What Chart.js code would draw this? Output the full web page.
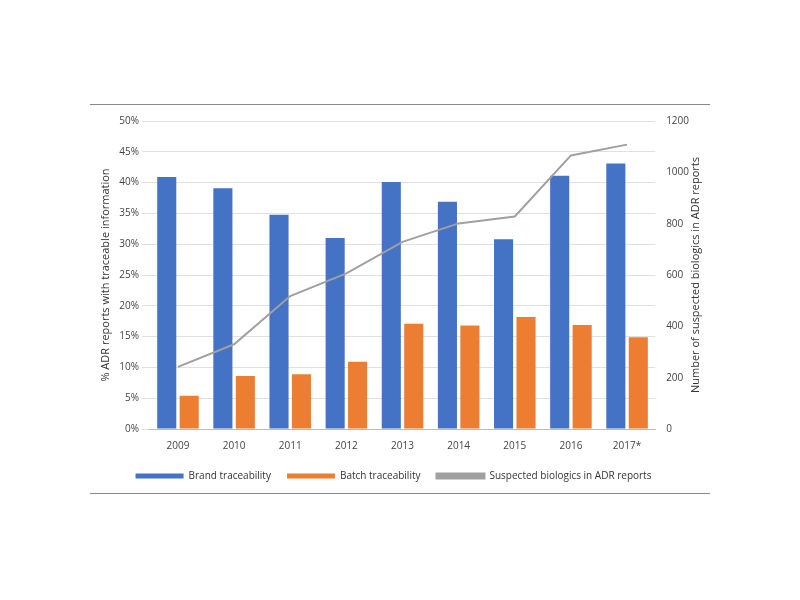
<!DOCTYPE html>
<html><head><meta charset="utf-8">
<script src="https://cdn.jsdelivr.net/npm/chart.js@4"></script>
<style>
body{margin:0;background:#fff;}
#wrap{position:absolute;left:90px;top:104px;width:620px;height:388px;border-top:1px solid #888;border-bottom:1px solid #888;}
</style></head><body>
<div id="wrap"><canvas id="c"></canvas></div>
<script>
const categories=["2009","2010","2011","2012","2013","2014","2015","2016","2017*"];
const brand=[40.9,39.1,34.8,31.0,40.1,36.9,30.8,41.1,43.1];
const batch=[5.4,8.6,8.9,10.9,17.1,16.8,18.2,16.9,14.9];
const biologics=[242,330,518,606,729,801,828,1066,1108];
const rightTitle='Number of suspected biologics in ADR reports';
Chart.defaults.font.family="Open Sans";
Chart.defaults.font.size=10;
Chart.defaults.color="#444";
const rt={id:'rt',afterDraw(ch){const s=ch.scales.y1,ctx=ch.ctx;ctx.save();
 ctx.translate(s.right+4,(ch.chartArea.top+ch.chartArea.bottom)/2);ctx.rotate(-Math.PI/2);
 ctx.font='11px Open Sans';ctx.fillStyle='#333';ctx.textAlign='center';ctx.textBaseline='middle';
 ctx.fillText(rightTitle,0,0);ctx.restore();}};
new Chart(document.getElementById('c'),{
 data:{labels:categories,datasets:[
  {type:'line',label:'Suspected biologics in ADR reports',data:biologics,yAxisID:'y1',borderColor:'#a0a0a0',backgroundColor:'#a0a0a0',borderWidth:2,pointRadius:0,order:0},
  {type:'bar',label:'Brand traceability',data:brand,yAxisID:'y',backgroundColor:'#4472c4',barPercentage:0.85,categoryPercentage:0.8,order:1},
  {type:'bar',label:'Batch traceability',data:batch,yAxisID:'y',backgroundColor:'#ed7d31',barPercentage:0.85,categoryPercentage:0.8,order:1}
 ]},
 options:{responsive:true,maintainAspectRatio:false,animation:false,
  layout:{padding:{top:16,left:5,right:18,bottom:2}},
  plugins:{legend:{position:'bottom',labels:{boxWidth:48,boxHeight:5,padding:16,color:'#333',
    sort:(a,b)=>[1,2,0].indexOf(a.datasetIndex)-[1,2,0].indexOf(b.datasetIndex)}}},
  scales:{
   x:{grid:{display:false},border:{color:'#bbb'}},
   y:{min:0,max:50,ticks:{stepSize:5,callback:v=>v+'%'},grid:{color:'#e0e0e0'},border:{display:false},
      title:{display:true,text:'% ADR reports with traceable information',font:{size:11},color:'#333'}},
   y1:{position:'right',min:0,max:1200,ticks:{stepSize:200,callback:v=>String(v)},grid:{display:false},border:{display:false}}
  }},
 plugins:[rt]
});
</script></body></html>
